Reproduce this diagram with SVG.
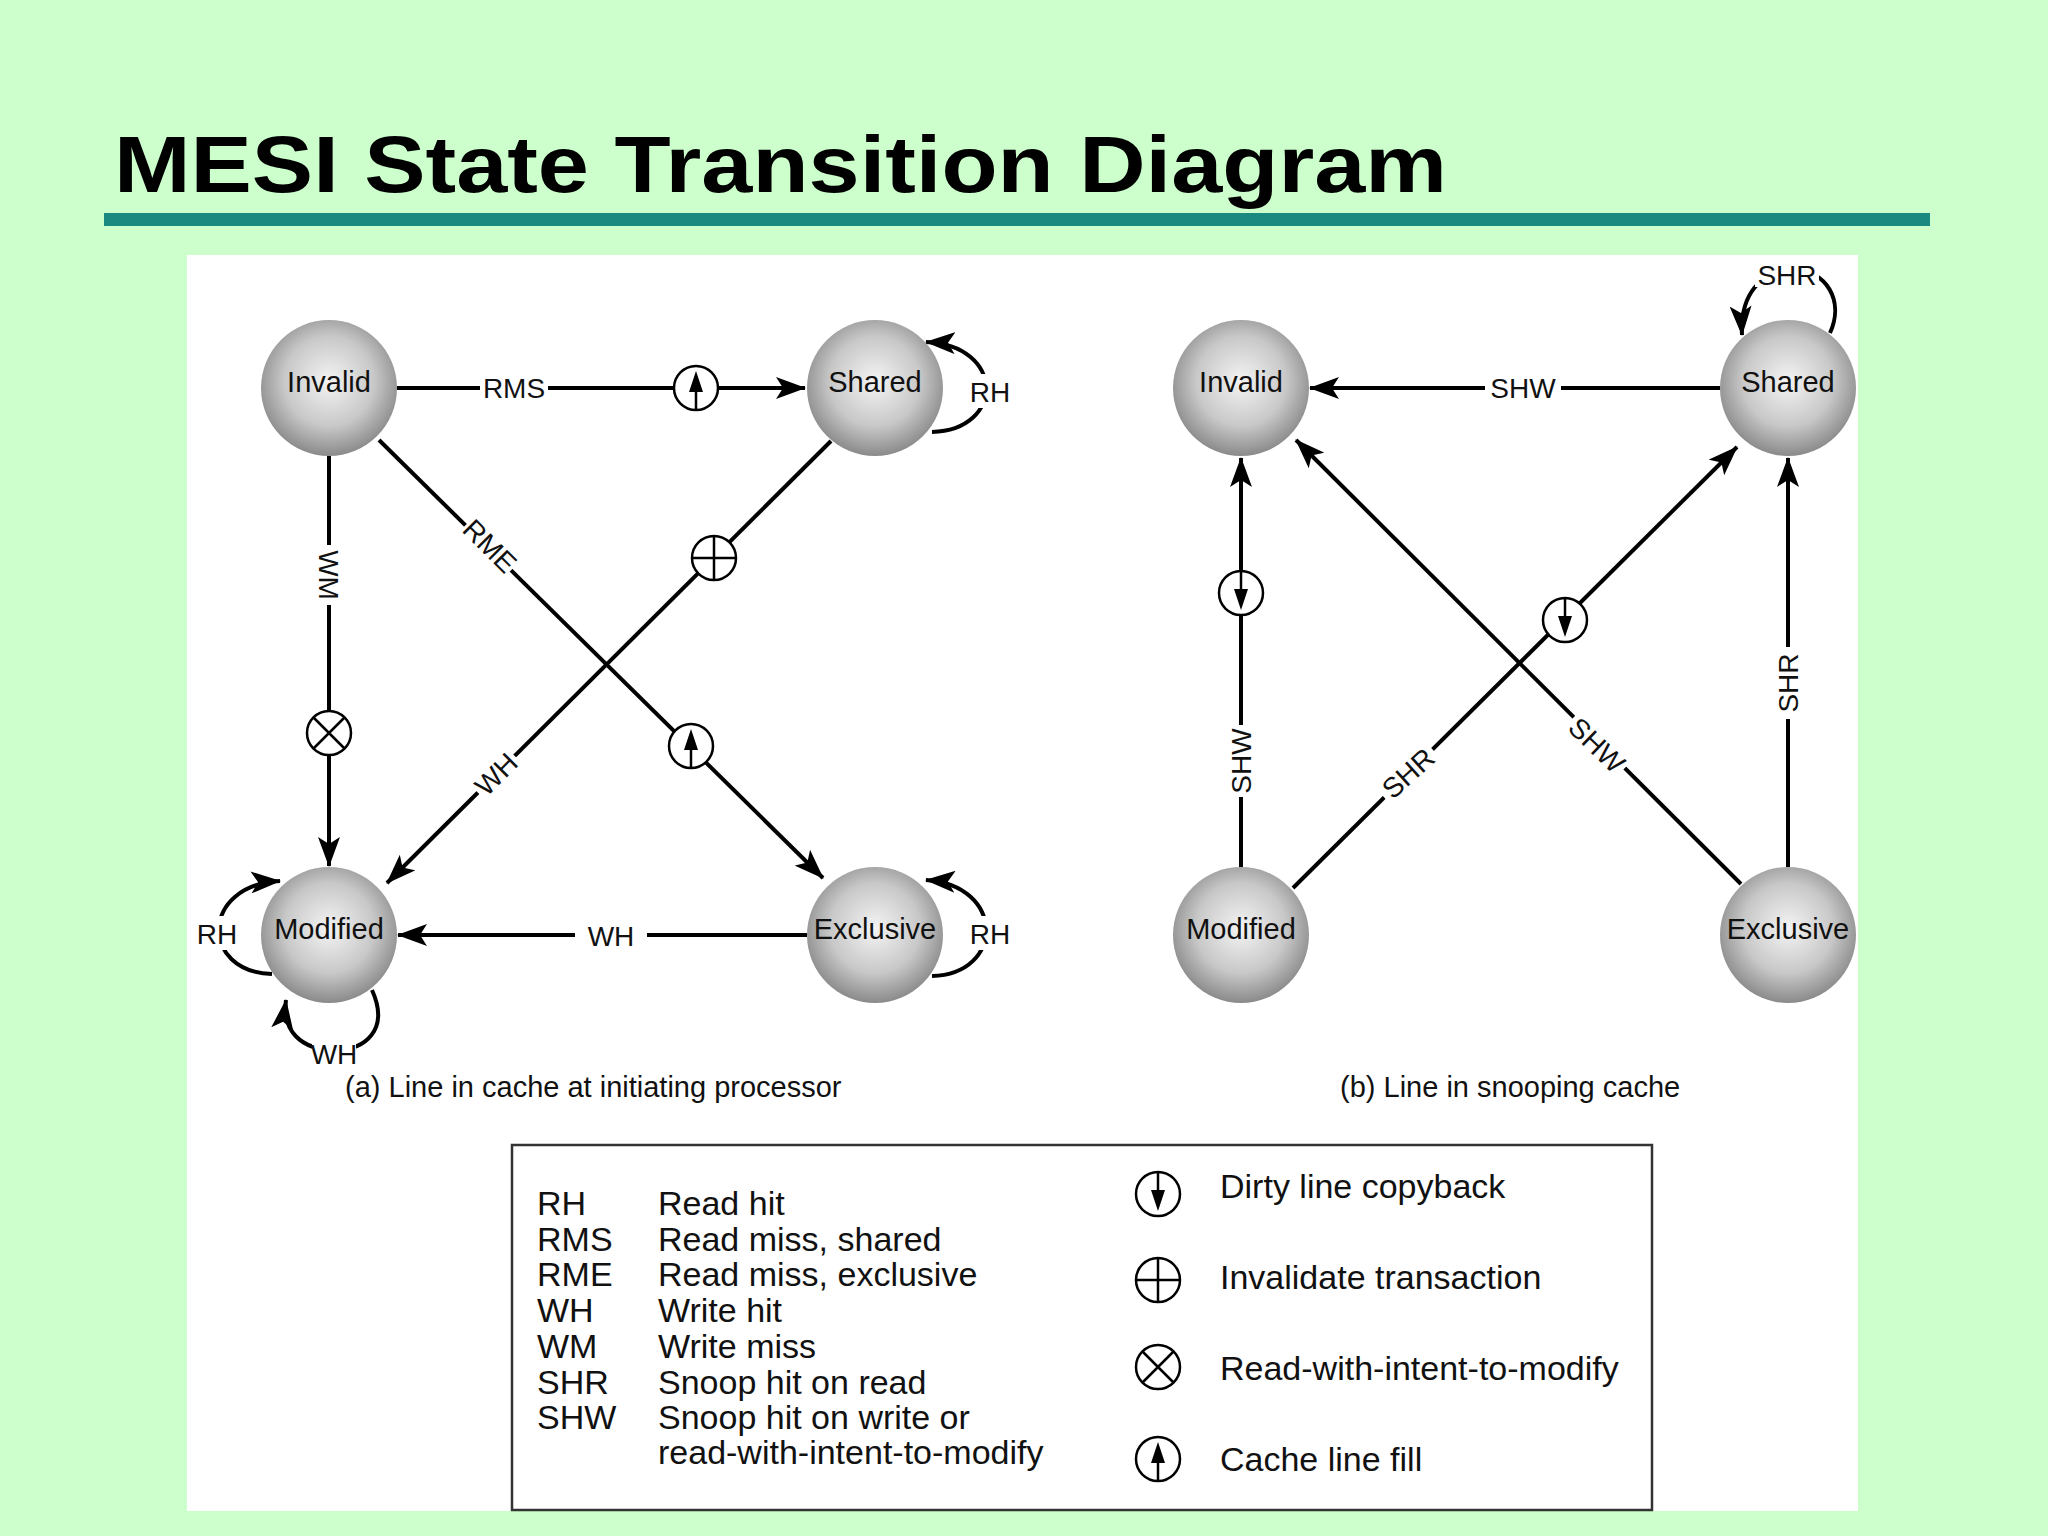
<svg xmlns="http://www.w3.org/2000/svg" width="2048" height="1536" viewBox="0 0 2048 1536">
<defs>
<radialGradient id="g" cx="50%" cy="45%" r="55%"><stop offset="0" stop-color="#f4f4f4"/><stop offset="0.6" stop-color="#c8c8c8"/><stop offset="1" stop-color="#8a8a8a"/></radialGradient>
<marker id="ar" viewBox="0 0 30 22" refX="29" refY="11" markerWidth="30" markerHeight="22" markerUnits="userSpaceOnUse" orient="auto"><path d="M0,0 L30,11 L0,22 L7,11 Z" fill="#000"/></marker>
<g id="fill"><circle r="22" fill="#fff" stroke="#000" stroke-width="2.5"/><line x1="0" y1="22" x2="0" y2="-4" stroke="#000" stroke-width="2.5"/><path d="M-7,4 L0,-17 L7,4 Z"/></g>
<g id="copy"><circle r="22" fill="#fff" stroke="#000" stroke-width="2.5"/><line x1="0" y1="-22" x2="0" y2="4" stroke="#000" stroke-width="2.5"/><path d="M-7,-4 L0,17 L7,-4 Z"/></g>
<g id="inv"><circle r="22" fill="#fff" stroke="#000" stroke-width="2.5"/><path d="M-22,0 H22 M0,-22 V22" stroke="#000" stroke-width="2.5"/></g>
<g id="rwim"><circle r="22" fill="#fff" stroke="#000" stroke-width="2.5"/><path d="M-15.5,-15.5 L15.5,15.5 M15.5,-15.5 L-15.5,15.5" stroke="#000" stroke-width="2.5"/></g>
</defs>
<style>
.n{fill:url(#g)}
.nt{font-family:"Liberation Sans",Arial,sans-serif;font-size:29px;text-anchor:middle;fill:#111}
.e{stroke:#000;stroke-width:4;fill:none}
.ea{stroke:#000;stroke-width:4;fill:none;marker-end:url(#ar)}
.l{font-family:"Liberation Sans",Arial,sans-serif;font-size:28px;text-anchor:middle;fill:#111}
.lg{font-family:"Liberation Sans",Arial,sans-serif;font-size:34px;fill:#111}
.bg{fill:#fff}
</style>
<rect width="2048" height="1536" fill="#ccffcc"/>
<text x="114" y="192" font-family="'Liberation Sans',Arial,sans-serif" font-weight="bold" font-size="80" textLength="1333" lengthAdjust="spacingAndGlyphs" fill="#000">MESI State Transition Diagram</text>
<rect x="104" y="213" width="1826" height="13" fill="#1a8a80"/>
<rect x="187" y="255" width="1671" height="1256" fill="#fff"/>

<g id="connectors">
<line class="ea" x1="397" y1="388" x2="805" y2="388"/>
<line class="ea" x1="329" y1="456" x2="329" y2="866"/>
<line class="ea" x1="379" y1="440" x2="823" y2="878"/>
<line class="ea" x1="831" y1="441" x2="387" y2="883"/>
<line class="ea" x1="807" y1="935" x2="398" y2="935"/>
<path class="ea" d="M932,432 C1005,430 1005,345 926,342"/>
<path class="ea" d="M932,976 C1005,974 1005,885 926,880"/>
<path class="ea" d="M272,974 C200,972 200,885 280,881"/>
<path class="ea" d="M372,990 C390,1030 365,1050 335,1050 C300,1050 282,1030 286,1000"/>
<line class="ea" x1="1720" y1="388" x2="1310" y2="388"/>
<line class="ea" x1="1241" y1="867" x2="1241" y2="458"/>
<line class="ea" x1="1293" y1="888" x2="1737" y2="447"/>
<line class="ea" x1="1741" y1="884" x2="1296" y2="440"/>
<line class="ea" x1="1788" y1="867" x2="1788" y2="458"/>
<path class="ea" d="M1830,333 C1845,300 1825,270 1795,270 C1760,270 1740,295 1742,335"/>
</g>

<g id="labels">
<rect class="bg" x="480" y="372" width="68" height="32"/><text class="l" x="514" y="398">RMS</text>
<use href="#fill" x="696" y="388"/>
<rect class="bg" x="313" y="545" width="32" height="60"/><text class="l" transform="translate(329,575) rotate(90)" y="10">WM</text>
<use href="#rwim" x="329" y="733"/>
<g transform="translate(490,546) rotate(45)"><rect class="bg" x="-32" y="-16" width="64" height="32"/><text class="l" y="10">RME</text></g>
<use href="#fill" x="691" y="746"/>
<use href="#inv" x="714" y="558"/>
<g transform="translate(496,774) rotate(-45)"><rect class="bg" x="-26" y="-16" width="52" height="32"/><text class="l" y="10">WH</text></g>
<rect class="bg" x="575" y="918" width="72" height="34"/><text class="l" x="611" y="946">WH</text>
<rect class="bg" x="968" y="374" width="44" height="34"/><text class="l" x="990" y="402">RH</text>
<rect class="bg" x="968" y="916" width="44" height="34"/><text class="l" x="990" y="944">RH</text>
<rect class="bg" x="195" y="916" width="44" height="34"/><text class="l" x="217" y="944">RH</text>
<rect class="bg" x="312" y="1040" width="44" height="28"/><text class="l" x="334" y="1064">WH</text>

<rect class="bg" x="1485" y="372" width="76" height="32"/><text class="l" x="1523" y="398">SHW</text>
<use href="#copy" x="1241" y="593"/>
<rect class="bg" x="1225" y="725" width="32" height="72"/><text class="l" transform="translate(1241,761) rotate(-90)" y="10">SHW</text>
<use href="#copy" x="1565" y="620"/>
<g transform="translate(1408,773) rotate(-42)"><rect class="bg" x="-34" y="-16" width="68" height="32"/><text class="l" y="10">SHR</text></g>
<g transform="translate(1597,745) rotate(44)"><rect class="bg" x="-36" y="-16" width="72" height="32"/><text class="l" y="10">SHW</text></g>
<rect class="bg" x="1772" y="647" width="32" height="72"/><text class="l" transform="translate(1788,683) rotate(-90)" y="10">SHR</text>
<rect class="bg" x="1755" y="257" width="64" height="30"/><text class="l" x="1787" y="285">SHR</text>
</g>

<g id="n-a-invalid"><circle class="n" cx="329" cy="388" r="68"/><text class="nt" x="329" y="392">Invalid</text></g>
<g id="n-a-shared"><circle class="n" cx="875" cy="388" r="68"/><text class="nt" x="875" y="392">Shared</text></g>
<g id="n-a-modified"><circle class="n" cx="329" cy="935" r="68"/><text class="nt" x="329" y="939">Modified</text></g>
<g id="n-a-exclusive"><circle class="n" cx="875" cy="935" r="68"/><text class="nt" x="875" y="939">Exclusive</text></g>
<g id="n-b-invalid"><circle class="n" cx="1241" cy="388" r="68"/><text class="nt" x="1241" y="392">Invalid</text></g>
<g id="n-b-shared"><circle class="n" cx="1788" cy="388" r="68"/><text class="nt" x="1788" y="392">Shared</text></g>
<g id="n-b-modified"><circle class="n" cx="1241" cy="935" r="68"/><text class="nt" x="1241" y="939">Modified</text></g>
<g id="n-b-exclusive"><circle class="n" cx="1788" cy="935" r="68"/><text class="nt" x="1788" y="939">Exclusive</text></g>

<text class="l" x="345" y="1097" style="text-anchor:start;font-size:29px">(a) Line in cache at initiating processor</text>
<text class="l" x="1340" y="1097" style="text-anchor:start;font-size:29px">(b) Line in snooping cache</text>

<g id="legend">
<rect x="512" y="1145" width="1140" height="365" fill="#fff" stroke="#333" stroke-width="2.5"/>
<g class="lg">
<text x="537" y="1215">RH</text><text x="658" y="1215">Read hit</text>
<text x="537" y="1251">RMS</text><text x="658" y="1251">Read miss, shared</text>
<text x="537" y="1286">RME</text><text x="658" y="1286">Read miss, exclusive</text>
<text x="537" y="1322">WH</text><text x="658" y="1322">Write hit</text>
<text x="537" y="1358">WM</text><text x="658" y="1358">Write miss</text>
<text x="537" y="1394">SHR</text><text x="658" y="1394">Snoop hit on read</text>
<text x="537" y="1429">SHW</text><text x="658" y="1429">Snoop hit on write or</text>
<text x="658" y="1464">read-with-intent-to-modify</text>
<text x="1220" y="1198">Dirty line copyback</text>
<text x="1220" y="1289">Invalidate transaction</text>
<text x="1220" y="1380">Read-with-intent-to-modify</text>
<text x="1220" y="1471">Cache line fill</text>
</g>
<use href="#copy" x="1158" y="1194"/>
<use href="#inv" x="1158" y="1280"/>
<use href="#rwim" x="1158" y="1367"/>
<use href="#fill" x="1158" y="1459"/>
</g>
</svg>
